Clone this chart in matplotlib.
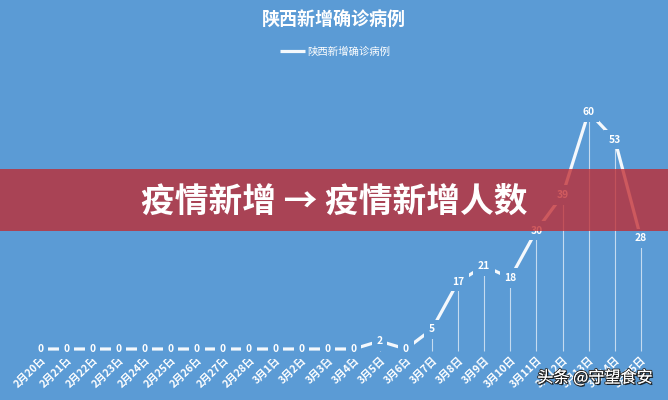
import matplotlib
matplotlib.use("Agg")
import matplotlib.pyplot as plt
import matplotlib.patheffects as pe
from matplotlib.patches import Rectangle
from matplotlib.transforms import ScaledTranslation

plt.rcParams['font.family'] = ['Noto Sans CJK SC', 'DejaVu Sans']

dates = ['2月20日', '2月21日', '2月22日', '2月23日', '2月24日', '2月25日', '2月26日',
         '2月27日', '2月28日', '3月1日', '3月2日', '3月3日', '3月4日', '3月5日',
         '3月6日', '3月7日', '3月8日', '3月9日', '3月10日', '3月11日', '3月12日',
         '3月13日', '3月14日', '3月15日']
cases = [0, 0, 0, 0, 0, 0, 0, 0, 0, 0, 0, 0, 0, 2, 0, 5, 17, 21, 18, 30, 39, 60, 53, 28]
series_name = '陕西新增确诊病例'
title = '陕西新增确诊病例'
banner = '疫情新增 → 疫情新增人数'
watermark = '头条 @守望食安'

BG = '#5b9bd5'
W, H = 668, 400
fig = plt.figure(figsize=(W / 100, H / 100), dpi=100, facecolor=BG)
ax = fig.add_axes([27 / W, 48 / H, (654 - 27) / W, 252 / H])
ax.set_facecolor(BG)
for s in ax.spines.values():
    s.set_visible(False)

x = list(range(len(dates)))
ax.set_xlim(-0.5, len(dates) - 0.5)
ax.set_ylim(-0.76, 63.04)

# drop lines
px = [i for i, v in zip(x, cases) if v > 0]
pv = [v for v in cases if v > 0]
ax.vlines(px, -0.5, pv, colors='white', alpha=0.65, lw=0.8, zorder=1)

line, = ax.plot(x, cases, color='#f4f8fc', lw=2.3, zorder=2, label=series_name,
                solid_capstyle='butt')

for i, v in zip(x, cases):
    ax.text(i, v, str(v), ha='center', va='center', color='white', fontsize=7.4,
            fontweight='bold', zorder=3, clip_on=False,
            bbox=dict(boxstyle='square,pad=0.45', fc=BG, ec='none'))

ax.set_yticks([])
ax.set_xticks(x)
ax.set_xticklabels(dates, rotation=44, ha='right', va='center', rotation_mode='anchor',
                   fontsize=7.6, color='white', fontweight='bold')
ax.tick_params(axis='x', length=0, pad=5)
off = ScaledTranslation(4 / 100, 0, fig.dpi_scale_trans)
for lab in ax.get_xticklabels():
    lab.set_transform(lab.get_transform() + off)

fig.text(333.5 / W, 1 - 20 / H, title, ha='center', va='center', color='white',
         fontsize=13, fontweight='bold')
fig.legend(handles=[line], labels=[series_name], loc='center',
           bbox_to_anchor=(335 / W, 1 - 52 / H), frameon=False, fontsize=7.5,
           labelcolor='white', handlelength=2.4, handletextpad=0.2)

fig.patches.append(Rectangle((0, 1 - 231 / H), 1, 62 / H, transform=fig.transFigure,
                             facecolor=(0.76, 0.16, 0.18), alpha=0.77, edgecolor='none',
                             zorder=10))
fig.text(334 / W, 1 - 201 / H, banner, ha='center', va='center', color='white',
         fontsize=24.3, fontweight='heavy', zorder=11)

fig.text(595 / W, 1 - 378 / H, watermark, ha='center', va='center', color='white',
         fontsize=11.6, zorder=11,
         path_effects=[pe.withStroke(linewidth=1.5, foreground='#333333'),
                       pe.SimplePatchShadow(offset=(1, -1), shadow_rgbFace='black', alpha=0.7),
                       pe.Normal()])

fig.savefig('out.png', dpi=100, facecolor=BG)
